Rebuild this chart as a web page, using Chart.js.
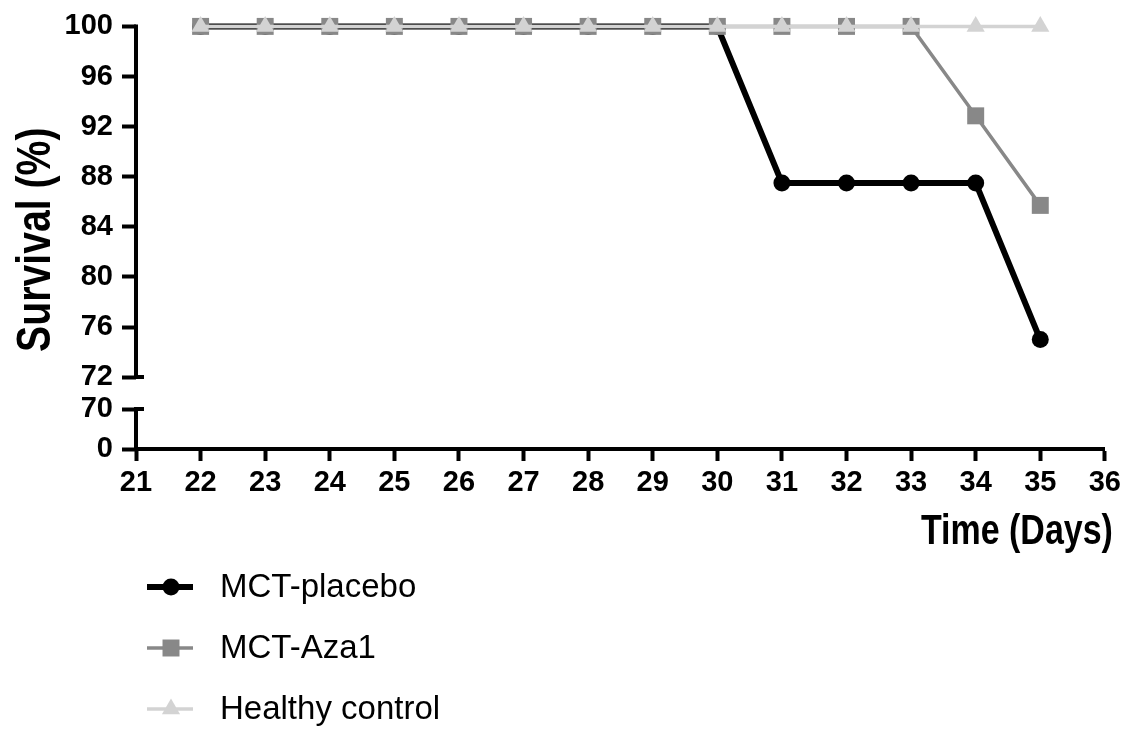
<!DOCTYPE html>
<html>
<head>
<meta charset="utf-8">
<script src="https://cdn.jsdelivr.net/npm/chart.js@4.4.1/dist/chart.umd.min.js"></script>
<style>
  html, body { margin: 0; padding: 0; background: #fff; }
</style>
</head>
<body>
<canvas id="survivalChart" width="1126" height="729"></canvas>
<script>
// Survival data
const days = [22, 23, 24, 25, 26, 27, 28, 29, 30, 31, 32, 33, 34, 35];
const placebo = [100, 100, 100, 100, 100, 100, 100, 100, 100, 87.5, 87.5, 87.5, 87.5, 75];
const aza1 = [100, 100, 100, 100, 100, 100, 100, 100, 100, 100, 100, 100, 92.86, 85.71];
const healthy = [100, 100, 100, 100, 100, 100, 100, 100, 100, 100, 100, 100, 100, 100];
const seriesNames = ['MCT-placebo', 'MCT-Aza1', 'Healthy control'];
const yTickLabels = [0, 70, 72, 76, 80, 84, 88, 92, 96, 100];
const yTitle = 'Survival (%)';
const xTitle = 'Time (Days)';

// broken y axis: 72..100 is linear, 0..70 is squeezed below the break
const BREAK_HI = 72;
const BREAK_LO = 70;
function axisPos(v) {
  if (v >= BREAK_HI) return v;
  return 66.26 + (v / BREAK_LO) * (69.45 - 66.26);
}

Chart.defaults.font.family = '"Liberation Sans", Arial, sans-serif';
Chart.defaults.color = '#000';

function toPoints(values) {
  return days.map((d, i) => ({ x: d, y: axisPos(values[i]) }));
}

// draws the y axis line with the gap between 70 and 72
const axisBreakPlugin = {
  id: 'axisBreak',
  afterDraw(chart) {
    const ctx = chart.ctx;
    const s = chart.scales.y;
    const x = s.right;
    const top = s.getPixelForValue(100);
    const hi = s.getPixelForValue(axisPos(BREAK_HI));
    const lo = s.getPixelForValue(axisPos(BREAK_LO));
    const bottom = s.getPixelForValue(axisPos(0));
    ctx.save();
    ctx.strokeStyle = '#000';
    ctx.lineWidth = 4;
    ctx.beginPath();
    ctx.moveTo(x, top - 2);
    ctx.lineTo(x, hi);
    ctx.moveTo(x - 2, hi);
    ctx.lineTo(x + 8, hi);
    ctx.moveTo(x, lo);
    ctx.lineTo(x, bottom + 2);
    ctx.moveTo(x - 2, lo);
    ctx.lineTo(x + 8, lo);
    ctx.stroke();
    ctx.restore();
  }
};

// axis titles in a narrow bold face (condensed horizontally like the original)
const axisTitlePlugin = {
  id: 'axisTitles',
  afterDraw(chart) {
    const ctx = chart.ctx;
    const area = chart.chartArea;
    ctx.save();
    ctx.fillStyle = '#000';
    ctx.font = 'bold 49px "Liberation Sans", Arial, sans-serif';
    ctx.textAlign = 'center';
    ctx.textBaseline = 'alphabetic';
    ctx.translate(50, (area.top + area.bottom) / 2 + 2);
    ctx.rotate(-Math.PI / 2);
    ctx.scale(0.8, 1);
    ctx.fillText(yTitle, 0, 0);
    ctx.restore();

    ctx.save();
    ctx.fillStyle = '#000';
    ctx.font = 'bold 43px "Liberation Sans", Arial, sans-serif';
    ctx.textAlign = 'right';
    ctx.textBaseline = 'alphabetic';
    ctx.translate(area.right + 8, 544);
    ctx.scale(0.79, 1);
    ctx.fillText(xTitle, 0, 0);
    ctx.restore();
  }
};

// legend with a short line through each marker, stacked below the chart
const lineLegendPlugin = {
  id: 'lineLegend',
  afterDraw(chart) {
    const ctx = chart.ctx;
    chart.data.datasets.forEach((ds, i) => {
      const y = 587 + i * 61;
      ctx.save();
      ctx.strokeStyle = ds.borderColor;
      ctx.lineWidth = ds.borderWidth;
      ctx.beginPath();
      ctx.moveTo(147, y);
      ctx.lineTo(193, y);
      ctx.stroke();
      ctx.fillStyle = ds.pointBackgroundColor;
      Chart.helpers.drawPoint(ctx, { pointStyle: ds.pointStyle, radius: ds.pointRadius, borderWidth: 0, rotation: 0 }, 171, y);
      ctx.fillStyle = '#000';
      ctx.font = '33px "Liberation Sans", Arial, sans-serif';
      ctx.textBaseline = 'middle';
      ctx.fillText(ds.label, 220, y + 1);
      ctx.restore();
    });
  }
};

const ctx = document.getElementById('survivalChart').getContext('2d');
new Chart(ctx, {
  type: 'line',
  data: {
    datasets: [
      {
        label: seriesNames[0],
        data: toPoints(placebo),
        borderColor: '#000000',
        backgroundColor: '#000000',
        borderWidth: 6,
        pointStyle: 'circle',
        pointRadius: 8.5,
        pointBackgroundColor: '#000000',
        pointBorderWidth: 0,
        order: 3,
        clip: false
      },
      {
        label: seriesNames[1],
        data: toPoints(aza1),
        borderColor: '#888888',
        backgroundColor: '#888888',
        borderWidth: 3.5,
        pointStyle: 'rect',
        pointRadius: 12,
        pointBackgroundColor: '#888888',
        pointBorderWidth: 0,
        order: 2,
        clip: false
      },
      {
        label: seriesNames[2],
        data: toPoints(healthy),
        borderColor: '#d3d3d3',
        backgroundColor: '#d3d3d3',
        borderWidth: 3.5,
        pointStyle: 'triangle',
        pointRadius: 10.5,
        pointBackgroundColor: '#d3d3d3',
        pointBorderWidth: 0,
        order: 1,
        clip: false
      }
    ]
  },
  options: {
    responsive: false,
    animation: false,
    layout: { padding: { left: 0, top: 26, right: 21, bottom: 174 } },
    plugins: {
      legend: { display: false },
      tooltip: { enabled: false }
    },
    scales: {
      x: {
        type: 'linear',
        min: 21,
        max: 36,
        afterFit: (scale) => { scale.height = 106; },
        border: { display: true, color: '#000', width: 4 },
        grid: { drawOnChartArea: false, tickLength: 12, tickWidth: 4, tickColor: '#000' },
        ticks: {
          stepSize: 1,
          autoSkip: false,
          maxRotation: 0,
          padding: 5,
          color: '#000',
          font: { size: 29, weight: 'bold' }
        }
      },
      y: {
        type: 'linear',
        min: axisPos(0),
        max: 100,
        afterFit: (scale) => { scale.width = 136; },
        afterBuildTicks: (scale) => {
          scale.ticks = yTickLabels.map(v => ({ value: axisPos(v) }));
        },
        border: { display: false },
        grid: { drawOnChartArea: false, tickLength: 14, tickWidth: 4, tickColor: '#000' },
        ticks: {
          padding: 9,
          color: '#000',
          font: { size: 29, weight: 'bold' },
          callback: (value, index) => yTickLabels[index]
        }
      }
    }
  },
  plugins: [axisBreakPlugin, axisTitlePlugin, lineLegendPlugin]
});
</script>
</body>
</html>
